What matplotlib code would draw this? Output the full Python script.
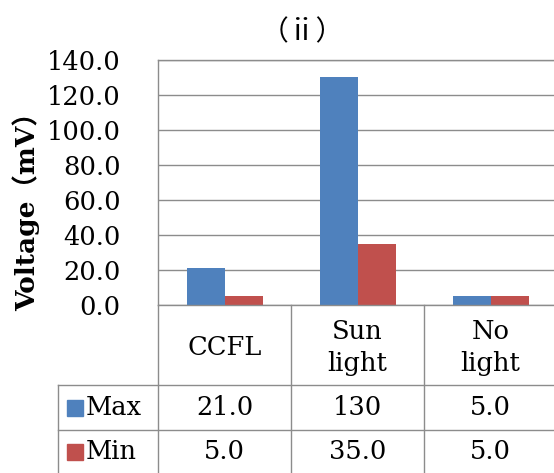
import matplotlib.pyplot as plt
import numpy as np

categories = ["CCFL", "Sun\nlight", "No\nlight"]
series_names = ["Max", "Min"]
max_values = [21.0, 130.0, 5.0]
min_values = [5.0, 35.0, 5.0]
table_text = [["21.0", "130", "5.0"], ["5.0", "35.0", "5.0"]]
y_ticks = [0, 20, 40, 60, 80, 100, 120, 140]

BLUE = "#4F81BD"
RED = "#C0504D"
GRID = "#8C8C8C"
FONT = ["DejaVu Serif", "Noto Sans CJK JP"]
FS = 18.5

W, H = 554, 473
fig = plt.figure(figsize=(W / 100, H / 100), dpi=100)


def box(x0, y0, x1, y1):
    # pixel box (top-left origin) -> figure fraction rect
    return [x0 / W, 1 - y1 / H, (x1 - x0) / W, (y1 - y0) / H]


# plot area
px_left, px_right, px_top, px_zero = 158, 557, 60, 305
ax = fig.add_axes(box(px_left, px_top, px_right, px_zero))
x = np.arange(len(categories))
bw = 1 / 3.5
ax.bar(x - bw / 2, max_values, bw, color=BLUE, zorder=3)
ax.bar(x + bw / 2, min_values, bw, color=RED, zorder=3)
ax.set_xlim(-0.5, len(categories) - 0.5)
ax.set_ylim(0, 140)
ax.set_yticks(y_ticks)
ax.set_yticklabels([f"{v:.1f}" for v in y_ticks], family=FONT, fontsize=FS)
ax.set_xticks([])
ax.tick_params(axis="y", length=0, pad=27)
ax.yaxis.grid(True, color=GRID, lw=1)
for s in ax.spines.values():
    s.set_color(GRID)
    s.set_linewidth(1)
ax.spines["bottom"].set_visible(False)

# data table below
px_tleft = 58
row_bounds = [305, 385, 430, 473]
tax = fig.add_axes(box(px_tleft, row_bounds[0], px_right, H))
cat_w = (px_right - px_left) / len(categories)
xl = -0.5 - (px_left - px_tleft) / cat_w
tax.set_xlim(xl, len(categories) - 0.5)
tax.set_ylim(H, row_bounds[0])
tax.axis("off")
lk = dict(color=GRID, lw=1, clip_on=False)
tax.plot([-0.5, 2.5], [row_bounds[0]] * 2, **lk)
for yb in row_bounds[1:3]:
    tax.plot([xl, 2.5], [yb, yb], **lk)
for xb in np.arange(-0.5, len(categories) - 0.5, 1.0):
    tax.plot([xb, xb], [row_bounds[0], H], **lk)
tax.plot([xl, xl], [row_bounds[1], H], **lk)

for i, c in enumerate(categories):
    tax.text(i, (row_bounds[0] + row_bounds[1]) / 2 + 2, c, ha="center", va="center",
             family=FONT, fontsize=FS, linespacing=1.35)
for r, (name, col) in enumerate(zip(series_names, [BLUE, RED])):
    yc = (row_bounds[r + 1] + row_bounds[r + 2]) / 2
    for i, t in enumerate(table_text[r]):
        tax.text(i, yc, t, ha="center", va="center", family=FONT, fontsize=FS)
    kx = xl + 9 / cat_w
    tax.add_patch(plt.Rectangle((kx, yc - 8), 16 / cat_w, 16, color=col, clip_on=False))
    tax.text(kx + 19 / cat_w, yc, name, ha="left", va="center", family=FONT, fontsize=FS)

fig.text(302 / W, 1 - 32 / H, "（ⅱ）", ha="center", va="center",
         family=["Noto Sans CJK JP", "DejaVu Serif"], fontsize=20)
fig.text(26 / W, 1 - 205 / H, "Voltage（mV）", ha="center", va="center", rotation=90,
         family=["DejaVu Serif", "Noto Sans CJK JP"], fontsize=19, fontweight="bold")

fig.savefig("out.png", dpi=100)
